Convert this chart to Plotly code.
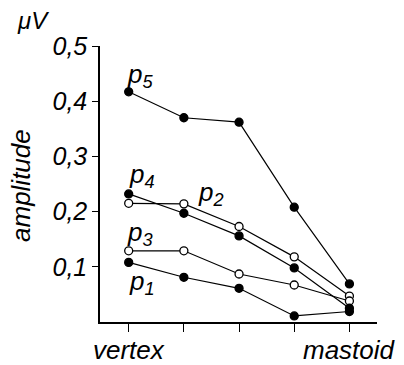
import plotly.graph_objects as go

positions = [0, 1, 2, 3, 4]
x_labels = ["vertex", "", "", "", "mastoid"]
p1 = [0.108, 0.081, 0.061, 0.011, 0.019]
p2 = [0.215, 0.214, 0.173, 0.118, 0.047]
p3 = [0.129, 0.129, 0.087, 0.067, 0.038]
p4 = [0.232, 0.197, 0.156, 0.098, 0.025]
p5 = [0.417, 0.370, 0.362, 0.208, 0.069]
y_ticks = [0.1, 0.2, 0.3, 0.4, 0.5]
y_ticktext = ["0,1", "0,2", "0,3", "0,4", "0,5"]

FONT = "Liberation Sans, Arial, sans-serif"

series = [
    ("p1", p1, True),
    ("p2", p2, False),
    ("p3", p3, False),
    ("p4", p4, True),
    ("p5", p5, True),
]

fig = go.Figure()
for name, vals, filled in series:
    fig.add_trace(go.Scatter(
        x=positions, y=vals, mode="lines+markers", name=name,
        line=dict(color="black", width=1.2),
        marker=dict(size=8, color="black" if filled else "white",
                    line=dict(color="black", width=1.3)),
        showlegend=False,
    ))

labels = [
    ("p<sub>5</sub>", 0.2, 0.447),
    ("p<sub>4</sub>", 0.25, 0.266),
    ("p<sub>2</sub>", 1.5, 0.232),
    ("p<sub>3</sub>", 0.2, 0.161),
    ("p<sub>1</sub>", 0.25, 0.071),
]
for txt, xx, yy in labels:
    fig.add_annotation(x=xx, y=yy, xref="x", yref="y", text=txt, showarrow=False,
                       xanchor="center", yanchor="middle",
                       font=dict(family=FONT, size=26, color="black", style="italic"))

for i, lab in enumerate(x_labels):
    if lab:
        fig.add_annotation(x=positions[i], y=-0.1, xref="x", yref="paper", text=lab,
                           showarrow=False, xanchor="center", yanchor="middle",
                           font=dict(family=FONT, size=26, color="black", style="italic"))

fig.add_annotation(x=-0.242, y=1.094, xref="paper", yref="paper", text="μV", showarrow=False,
                   xanchor="center", yanchor="middle",
                   font=dict(family=FONT, size=24, color="black", style="italic"))
fig.add_annotation(x=-0.285, y=0.493, xref="paper", yref="paper", text="amplitude",
                   showarrow=False, textangle=-90, xanchor="center", yanchor="middle",
                   font=dict(family=FONT, size=26, color="black", style="italic"))

fig.update_xaxes(range=[-0.52, 4.5], tickvals=positions, ticktext=[""] * 5,
                 showline=True, linecolor="black", linewidth=1.5,
                 ticks="outside", ticklen=8, tickcolor="black", tickwidth=1.2,
                 showgrid=False, zeroline=False)
fig.update_yaxes(range=[0, 0.5], tickvals=y_ticks, ticktext=y_ticktext,
                 showline=True, linecolor="black", linewidth=1.5,
                 ticks="outside", ticklen=6, tickcolor="black", tickwidth=1.2,
                 tickfont=dict(family=FONT, size=25, color="black", style="italic"),
                 showgrid=False, zeroline=False)

fig.update_layout(width=404, height=365, margin=dict(l=100, r=27, t=46, b=43),
                  plot_bgcolor="white", paper_bgcolor="white")

fig.write_html("out.html")
